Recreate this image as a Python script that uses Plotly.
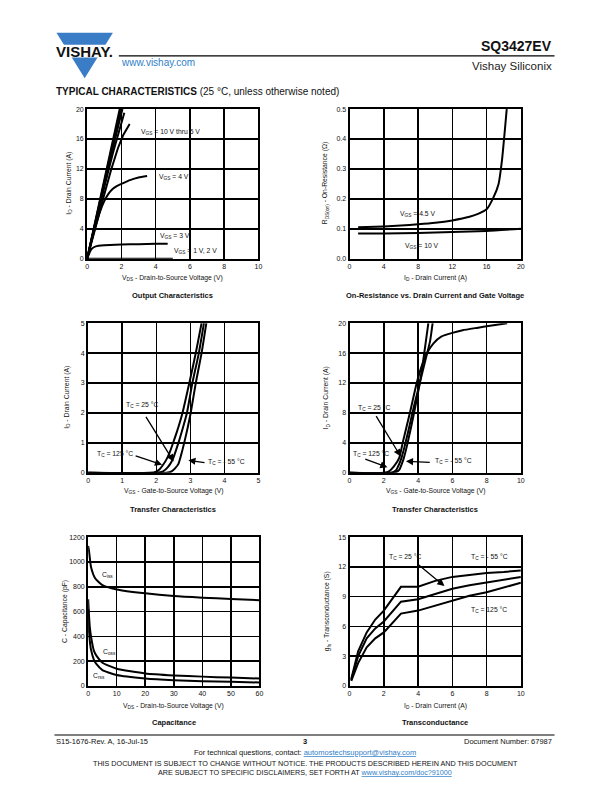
import plotly.graph_objects as go

W, H = 612, 792
FONT = "Liberation Sans, Arial, sans-serif"
BLUE = "#3a7cc6"
LINK = "#2f80c8"

# ---------------- data ----------------
# Output characteristics (VDS [V], ID [A])
oc_vgs10_x = [0, 0.5, 1.0, 1.5, 1.9]
oc_vgs10_y = [0, 5.3, 10.6, 15.8, 20]
oc_vgs9_x = [0, 0.5, 1.0, 1.5, 1.95]
oc_vgs9_y = [0, 5.2, 10.4, 15.5, 20]
oc_vgs8_x = [0, 0.5, 1.0, 1.5, 2.0]
oc_vgs8_y = [0, 5.1, 10.2, 15.2, 20]
oc_vgs7_x = [0, 0.5, 1.0, 1.5, 2.06]
oc_vgs7_y = [0, 5.0, 9.9, 14.8, 20]
oc_vgs6_x = [0, 0.5, 1.0, 1.5, 1.9, 2.17]
oc_vgs6_y = [0, 4.9, 9.6, 14.1, 17.5, 19.5]
oc_vgs5_x = [0, 0.5, 1.0, 1.4, 1.8, 2.1, 2.48]
oc_vgs5_y = [0, 4.4, 8.6, 11.9, 14.8, 16.5, 18.0]
oc_vgs4_x = [0, 0.25, 0.5, 0.75, 1.0, 1.25, 1.5, 1.75, 2.0, 2.5, 3.0, 3.5]
oc_vgs4_y = [0, 2.3, 4.4, 6.3, 7.7, 8.7, 9.35, 9.75, 10.0, 10.5, 10.85, 11.05]
oc_vgs3_x = [0, 0.1, 0.2, 0.3, 0.5, 1.0, 2.0, 3.0, 4.0, 4.7]
oc_vgs3_y = [0, 0.6, 1.1, 1.4, 1.65, 1.8, 1.9, 1.95, 2.0, 2.0]
oc_vgs12_x = [0, 5.0]
oc_vgs12_y = [0, 0]

# On-resistance (ID [A], RDS(on) [ohm])
ron_45_x = [1, 2, 4, 6, 8, 10, 12, 14, 15, 16, 16.8, 17.4, 17.8, 18.1, 18.35]
ron_45_y = [0.105, 0.106, 0.108, 0.111, 0.115, 0.12, 0.128, 0.14, 0.15, 0.165, 0.205, 0.25, 0.33, 0.42, 0.5]
ron_10_x = [1, 4, 8, 12, 16, 20]
ron_10_y = [0.084, 0.084, 0.086, 0.089, 0.093, 0.1]

# Transfer characteristics, low range (VGS [V], ID [A])
tr1_125_x = [0, 1.8, 2.0, 2.1, 2.2, 2.3, 2.4, 2.5, 2.6, 2.77, 2.97, 3.16, 3.33]
tr1_125_y = [0, 0, 0.04, 0.12, 0.27, 0.45, 0.7, 1.02, 1.35, 2.0, 3.0, 4.0, 5.0]
tr1_25_x = [0, 2.0, 2.2, 2.3, 2.41, 2.5, 2.65, 2.78, 2.9, 3.06, 3.25, 3.40]
tr1_25_y = [0, 0, 0.05, 0.14, 0.3, 0.5, 1.0, 1.5, 2.0, 3.0, 4.0, 5.0]
tr1_m55_x = [0, 2.3, 2.45, 2.55, 2.65, 2.73, 2.82, 2.92, 3.01, 3.16, 3.33, 3.47]
tr1_m55_y = [0, 0, 0.05, 0.15, 0.3, 0.6, 1.0, 1.5, 2.0, 3.0, 4.0, 5.0]

# Transfer characteristics, full range
tr2_125_x = [0, 2.0, 2.3, 2.6, 2.9, 3.1, 3.52, 3.92, 4.2, 4.52, 4.9, 5.35, 6.0, 6.6, 7.5, 8.3, 9.2]
tr2_125_y = [0, 0, 0.2, 0.9, 2.0, 4.0, 8.0, 12.0, 14.2, 16.0, 17.3, 18.2, 18.7, 19.05, 19.4, 19.7, 20]
tr2_25_x = [0, 2.4, 2.7, 2.9, 3.03, 3.2, 3.45, 3.75, 4.1, 4.4, 4.7, 4.85]
tr2_25_y = [0, 0, 0.3, 1.2, 2.0, 3.4, 5.8, 8.8, 12.0, 14.8, 17.6, 20]
tr2_m55_x = [0, 2.6, 2.9, 3.05, 3.17, 3.35, 3.6, 3.85, 4.1, 4.3, 4.45, 4.6]
tr2_m55_y = [0, 0, 0.4, 1.2, 2.0, 3.6, 6.2, 9.0, 12.0, 15.0, 17.5, 20]

# Capacitance (VDS [V], C [pF])
cap_ciss_x = [0, 0.3, 1, 2.5, 5, 10, 20, 30, 40, 50, 60]
cap_ciss_y = [1130, 1090, 960, 867, 813, 779, 747, 725, 712, 702, 692]
cap_coss_x = [0, 0.3, 0.6, 1, 2, 3, 5, 10, 20, 30, 40, 50, 60]
cap_coss_y = [700, 570, 470, 400, 285, 240, 187, 139, 101, 85, 75, 67, 60]
cap_crss_x = [0, 0.2, 0.5, 1, 2, 3, 5, 10, 20, 30, 40, 50, 60]
cap_crss_y = [620, 480, 380, 293, 213, 173, 128, 88, 60, 46, 38, 33, 28]

# Transconductance (ID [A], gfs [S])
gfs_x = [0.1, 0.5, 1, 1.5, 2, 3, 4, 5, 6, 7, 8, 9, 10]
gfs_m55 = [0.7, 3.5, 5.4, 6.7, 7.6, 10.0, 10.0, 10.6, 11.0, 11.2, 11.4, 11.5, 11.65]
gfs_25 = [0.6, 3.0, 4.8, 5.8, 6.5, 8.5, 8.75, 9.3, 9.8, 10.15, 10.45, 10.7, 11.0]
gfs_125 = [0.5, 2.3, 3.9, 4.8, 5.4, 7.3, 7.6, 8.1, 8.65, 9.1, 9.45, 9.9, 10.4]

# ---------------- layout helpers ----------------
def dx(x0, x1):
    return [x0 / W, x1 / W]

def dy(y0, y1):
    return [1 - y1 / H, 1 - y0 / H]

panels = [
    ((86, 259), (106, 257), [0, 10], [0, 20], [0, 2, 4, 6, 8, 10], [0, 4, 8, 12, 16, 20], None),
    ((351, 524), (106, 257), [0, 20], [0, 0.5], [0, 4, 8, 12, 16, 20], [0, 0.1, 0.2, 0.3, 0.4, 0.5], ["0.0", "0.1", "0.2", "0.3", "0.4", "0.5"]),
    ((87, 259), (322, 473), [0, 5], [0, 5], [0, 1, 2, 3, 4, 5], [0, 1, 2, 3, 4, 5], None),
    ((351, 524), (322, 473), [0, 10], [0, 20], [0, 2, 4, 6, 8, 10], [0, 4, 8, 12, 16, 20], None),
    ((87, 260), (538, 688), [0, 60], [0, 1200], [0, 10, 20, 30, 40, 50, 60], [0, 200, 400, 600, 800, 1000, 1200], None),
    ((351, 524), (538, 688), [0, 10], [0, 15], [0, 2, 4, 6, 8, 10], [0, 3, 6, 9, 12, 15], None),
]

fig = go.Figure()
layout = dict(
    width=W, height=H, margin=dict(l=0, r=0, t=0, b=0),
    paper_bgcolor="white", plot_bgcolor="white", showlegend=False,
    font=dict(family=FONT, color="#111", size=7),
)
tickfont = dict(family=FONT, size=7, color="#111")
for i, (xd, yd, xr, yr, xt, yt, ytt) in enumerate(panels, start=1):
    s = "" if i == 1 else str(i)
    layout["xaxis" + s] = dict(
        domain=dx(*xd), range=xr, anchor="y" + s, tickvals=xt,
        showgrid=True, gridcolor="black", gridwidth=1.5, zeroline=False,
        showline=True, linecolor="black", linewidth=2, mirror=True,
        ticks="", tickfont=tickfont, fixedrange=True,
    )
    yax = dict(
        domain=dy(*yd), range=yr, anchor="x" + s, tickvals=yt,
        showgrid=True, gridcolor="black", gridwidth=1.5, zeroline=False,
        showline=True, linecolor="black", linewidth=2, mirror=True,
        ticks="", tickfont=tickfont, fixedrange=True,
    )
    if ytt:
        yax["ticktext"] = ytt
    layout["yaxis" + s] = yax
fig.update_layout(**layout)

def add_line(x, y, i, w=2.0, smooth=True):
    s = "" if i == 1 else str(i)
    line = dict(color="black", width=w)
    if smooth:
        line.update(shape="spline", smoothing=0.5)
    fig.add_trace(go.Scatter(x=x, y=y, mode="lines", xaxis="x" + s, yaxis="y" + s,
                             line=line, hoverinfo="skip"))

for xs, ys in [(oc_vgs10_x, oc_vgs10_y), (oc_vgs9_x, oc_vgs9_y), (oc_vgs8_x, oc_vgs8_y),
               (oc_vgs7_x, oc_vgs7_y), (oc_vgs6_x, oc_vgs6_y), (oc_vgs5_x, oc_vgs5_y),
               (oc_vgs12_x, oc_vgs12_y)]:
    add_line(xs, ys, 1, smooth=False)
add_line(oc_vgs4_x, oc_vgs4_y, 1)
add_line(oc_vgs3_x, oc_vgs3_y, 1)
add_line(ron_45_x, ron_45_y, 2)
add_line(ron_10_x, ron_10_y, 2)
for xs, ys in [(tr1_125_x, tr1_125_y), (tr1_25_x, tr1_25_y), (tr1_m55_x, tr1_m55_y)]:
    add_line(xs, ys, 3)
for xs, ys in [(tr2_125_x, tr2_125_y), (tr2_25_x, tr2_25_y), (tr2_m55_x, tr2_m55_y)]:
    add_line(xs, ys, 4)
for xs, ys in [(cap_ciss_x, cap_ciss_y), (cap_coss_x, cap_coss_y), (cap_crss_x, cap_crss_y)]:
    add_line(xs, ys, 5)
for ys in [gfs_m55, gfs_25, gfs_125]:
    add_line(gfs_x, ys, 6, smooth=False)

ann = []
LBL = 6.8

def ptext(x, y, text, size=7, bold=False, anchor="left", color="#111", angle=0):
    t = f"<b>{text}</b>" if bold else text
    ann.append(dict(x=x / W, y=1 - y / H, xref="paper", yref="paper", text=t,
                    showarrow=False, xanchor=anchor, yanchor="middle", textangle=angle,
                    font=dict(family=FONT, size=size, color=color)))

def dtext(i, x, y, text, size=LBL):
    s = "" if i == 1 else str(i)
    ann.append(dict(x=x, y=y, xref="x" + s, yref="y" + s, text=text, showarrow=False,
                    xanchor="left", yanchor="middle", font=dict(family=FONT, size=size, color="#111")))

def darrow(i, x0, y0, x1, y1):
    s = "" if i == 1 else str(i)
    ann.append(dict(x=x1, y=y1, ax=x0, ay=y0, xref="x" + s, yref="y" + s,
                    axref="x" + s, ayref="y" + s, text="", showarrow=True,
                    arrowhead=2, arrowsize=1.1, arrowwidth=1.3, arrowcolor="black"))

# In-plot labels
dtext(1, 3.0, 16.9, "V<sub>GS</sub> = 10 V thru 5 V")
dtext(1, 4.06, 10.9, "V<sub>GS</sub> = 4 V")
dtext(1, 4.15, 3.0, "V<sub>GS</sub> = 3 V")
dtext(1, 4.98, 1.08, "V<sub>GS</sub> = 1 V, 2 V")
dtext(2, 5.7, 0.151, "V<sub>GS</sub> = 4.5 V")
dtext(2, 6.2, 0.043, "V<sub>GS</sub> = 10 V")
dtext(3, 1.06, 2.27, "T<sub>C</sub> = 25 °C")
dtext(3, 0.19, 0.64, "T<sub>C</sub> = 125 °C")
dtext(3, 3.47, 0.35, "T<sub>C</sub> = - 55 °C")
darrow(3, 1.67, 1.92, 2.51, 0.38)
darrow(3, 1.35, 0.58, 2.17, 0.27)
darrow(3, 3.46, 0.33, 2.94, 0.42)
dtext(4, 0.35, 8.66, "T<sub>C</sub> = 25 °C")
dtext(4, 0.1, 2.55, "T<sub>C</sub> = 125 °C")
dtext(4, 4.87, 1.54, "T<sub>C</sub> = - 55 °C")
darrow(4, 1.5, 7.78, 2.98, 2.2)
darrow(4, 0.83, 1.89, 2.21, 0.75)
darrow(4, 4.77, 1.4, 3.29, 1.54)
dtext(5, 4.2, 899, "C<sub>iss</sub>")
dtext(5, 4.6, 272, "C<sub>oss</sub>")
dtext(5, 0.9, 80, "C<sub>rss</sub>")
dtext(6, 2.21, 13.0, "T<sub>C</sub> = 25 °C")
dtext(6, 6.98, 13.0, "T<sub>C</sub> = - 55 °C")
dtext(6, 6.98, 7.67, "T<sub>C</sub> = 125 °C")
darrow(6, 3.9, 12.4, 5.54, 10.07)

# Axis titles
AX = 6.8
ptext(172.5, 276, "V<sub>DS</sub> - Drain-to-Source Voltage (V)", size=AX, anchor="center")
ptext(437.5, 276, "I<sub>D</sub> - Drain Current (A)", size=AX, anchor="center")
ptext(173, 491, "V<sub>GS</sub> - Gate-to-Source Voltage (V)", size=AX, anchor="center")
ptext(437.5, 491, "V<sub>GS</sub> - Gate-to-Source Voltage (V)", size=AX, anchor="center")
ptext(173.5, 708, "V<sub>DS</sub> - Drain-to-Source Voltage (V)", size=AX, anchor="center")
ptext(437.5, 708, "I<sub>D</sub> - Drain Current (A)", size=AX, anchor="center")
ptext(68, 181, "I<sub>D</sub> - Drain Current (A)", size=AX, anchor="center", angle=-90)
ptext(327, 181, "R<sub>DS(on)</sub> - On-Resistance (Ω)", size=AX, anchor="center", angle=-90)
ptext(66, 397, "I<sub>D</sub> - Drain Current (A)", size=AX, anchor="center", angle=-90)
ptext(328, 397, "I<sub>D</sub> - Drain Current (A)", size=AX, anchor="center", angle=-90)
ptext(63, 613, "C - Capacitance (pF)", size=AX, anchor="center", angle=-90)
ptext(328, 613, "g<sub>fs</sub> - Transconductance (S)", size=AX, anchor="center", angle=-90)

# Chart titles
ptext(172.5, 294, "Output Characteristics", size=7.5, bold=True, anchor="center")
ptext(437.5, 294, "On-Resistance vs. Drain Current and Gate Voltage", size=7.5, bold=True, anchor="center")
ptext(173, 510, "Transfer Characteristics", size=7.5, bold=True, anchor="center")
ptext(437.5, 510, "Transfer Characteristics", size=7.5, bold=True, anchor="center")
ptext(173.5, 725, "Capacitance", size=7.5, bold=True, anchor="center")
ptext(437.5, 725, "Transconductance", size=7.5, bold=True, anchor="center")

# Header
ptext(83.5, 47.5, "VISHAY.", size=15, bold=True, anchor="center", color="#111")
ptext(557.5, 42, "SQ3427EV", size=14, bold=True, anchor="right")
ptext(557.5, 62.5, "Vishay Siliconix", size=11.5, anchor="right", color="#222")
ptext(118.5, 59.5, "www.vishay.com", size=10, anchor="left", color=LINK)
ptext(53, 88, "<b>TYPICAL CHARACTERISTICS</b> (25 °C, unless otherwise noted)", size=10, anchor="left")

# Footer
ptext(53, 744, "S15-1676-Rev. A, 16-Jul-15", size=7.5, anchor="left")
ptext(306, 744, "3", size=7.5, bold=True, anchor="center")
ptext(557.5, 744, "Document Number: 67987", size=7.5, anchor="right")
ptext(306, 755, "For technical questions, contact: <span style='color:%s'><u>automostechsupport@vishay.com</u></span>" % LINK, size=7.5, anchor="center")
ptext(306, 766.5, "THIS DOCUMENT IS SUBJECT TO CHANGE WITHOUT NOTICE. THE PRODUCTS DESCRIBED HEREIN AND THIS DOCUMENT", size=7.2, anchor="center")
ptext(306, 775, "ARE SUBJECT TO SPECIFIC DISCLAIMERS, SET FORTH AT <span style='color:%s'><u>www.vishay.com/doc?91000</u></span>" % LINK, size=7.2, anchor="center")

fig.update_layout(annotations=ann)

def P(x, y):
    return f"{x / W:.5f},{1 - y / H:.5f}"

shapes = [
    dict(type="path", xref="paper", yref="paper",
         path=f"M {P(55, 29)} L {P(112, 29)} L {P(83.5, 75)} Z",
         fillcolor=BLUE, line=dict(width=0), layer="below"),
    dict(type="rect", xref="paper", yref="paper", x0=50 / W, x1=116 / W,
         y0=1 - 54 / H, y1=1 - 41 / H, fillcolor="white", line=dict(width=0), layer="below"),
    dict(type="line", xref="paper", yref="paper", x0=118 / W, x1=558 / W,
         y0=1 - 52.3 / H, y1=1 - 52.3 / H, line=dict(color="black", width=1.2)),
    dict(type="line", xref="paper", yref="paper", x0=53 / W, x1=558 / W,
         y0=1 - 737.5 / H, y1=1 - 737.5 / H, line=dict(color="black", width=1.2)),
]
fig.update_layout(shapes=shapes)

fig.write_html("out.html", config={"displayModeBar": False, "staticPlot": True},
               post_script="document.body.style.margin='0';")
